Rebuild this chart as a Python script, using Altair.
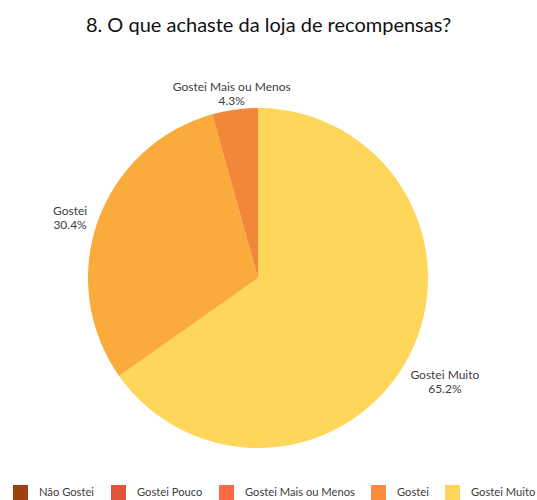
import math

import altair as alt
import pandas as pd

# Answer categories shown in the legend, with their swatch colours
categories = ["Não Gostei", "Gostei Pouco", "Gostei Mais ou Menos", "Gostei", "Gostei Muito"]
legend_colors = ["#a0400e", "#e4543a", "#fb6a45", "#fa8c3c", "#fed55a"]

# Answers that actually received votes (clockwise from the top)
slice_names = ["Gostei Muito", "Gostei", "Gostei Mais ou Menos"]
slice_counts = [15, 7, 1]
slice_colors = ["#fed65a", "#fbab3c", "#f2873a"]

total = sum(slice_counts)
outer_r = 170

# Midpoint angle of each slice (radians, clockwise from 12 o'clock)
mids, acc = [], 0
for c in slice_counts:
    mids.append((acc + c / 2) / total * 2 * math.pi)
    acc += c

# Push each label outward so its box clears the rim: wider text needs more
# room where the slice midpoint lies towards the side of the pie.
label_r = [outer_r + 17 + 2.2 * len(n) * abs(math.sin(m)) for n, m in zip(slice_names, mids)]

df = pd.DataFrame({
    "answer": slice_names,
    "count": slice_counts,
    "order": list(range(len(slice_names))),
    "label": [f"{n}\n{c / total * 100:.1f}%" for n, c in zip(slice_names, slice_counts)],
    "mid": mids,
    "label_r": label_r,
})

cx, cy = 258, 233
font = "Lato"

pie = alt.Chart(df).mark_arc(outerRadius=outer_r).encode(
    theta=alt.Theta("count:Q", stack=True),
    order=alt.Order("order:Q"),
    x=alt.value(cx),
    y=alt.value(cy),
    fill=alt.Fill("answer:N", scale=alt.Scale(domain=slice_names, range=slice_colors), legend=None),
)

labels = alt.Chart(df).mark_text(
    fontSize=12, lineBreak="\n", lineHeight=14, font=font, color="#404040"
).encode(
    theta=alt.Theta("mid:Q", scale=None, stack=None),
    radius=alt.Radius("label_r:Q", scale=None),
    x=alt.value(cx),
    y=alt.value(cy),
    text="label:N",
)

legend_layer = alt.Chart(df).mark_square(opacity=0).encode(
    x=alt.value(cx),
    y=alt.value(cy),
    color=alt.Color(
        "answer:N",
        scale=alt.Scale(domain=categories, range=legend_colors),
        legend=alt.Legend(
            orient="none",
            legendX=13,
            legendY=440,
            direction="horizontal",
            title=None,
            symbolType="square",
            symbolSize=225,
            symbolOpacity=1,
            symbolStrokeWidth=0,
            labelFont=font,
            labelFontSize=11.2,
            labelColor="#404040",
            labelOffset=11,
            columnPadding=16,
        ),
    ),
)

chart = (
    alt.layer(pie, labels, legend_layer)
    .properties(
        width=537,
        height=455,
        autosize="none",
        padding={"left": 0, "top": 45, "right": 0, "bottom": 0},
        title=alt.Title(
            "8. O que achaste da loja de recompensas?",
            font=font,
            fontSize=20,
            fontWeight="normal",
            color="#111111",
            anchor="middle",
            offset=9,
        ),
    )
    .configure_view(stroke=None)
)

chart.save("out.html", embed_options={"renderer": "svg", "actions": False})
